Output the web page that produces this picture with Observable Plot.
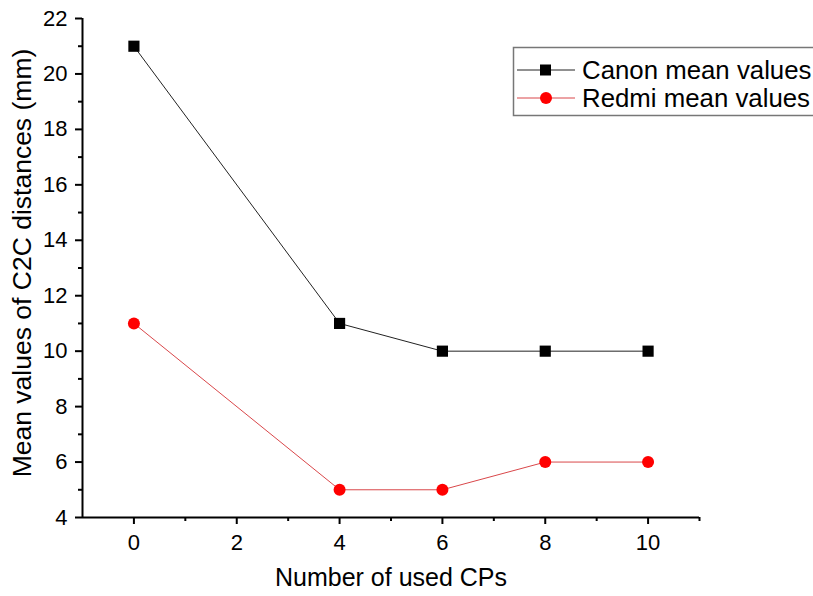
<!DOCTYPE html>
<html>
<head>
<meta charset="utf-8">
<script src="https://cdn.jsdelivr.net/npm/d3@7"></script>
<script src="https://cdn.jsdelivr.net/npm/@observablehq/plot@0.6"></script>
<style>
  html, body { margin: 0; padding: 0; background: #fff; }
  #chart { position: relative; width: 813px; height: 596px; overflow: hidden; }
  #chart svg g[aria-label="x-axis tick label"] text,
  #chart svg g[aria-label="y-axis tick label"] text { font-size: 22px !important; }
</style>
</head>
<body>
<div id="chart"></div>
<script>
const cps = [0, 4, 6, 8, 10];
const canon = [21, 11, 10, 10, 10];
const redmi = [11, 5, 5, 6, 6];
const seriesNames = ["Canon mean values", "Redmi mean values"];
const xTicks = [0, 2, 4, 6, 8, 10];
const xMinor = [1, 3, 5, 7, 9, 11];
const yTicks = [4, 6, 8, 10, 12, 14, 16, 18, 20, 22];
const yMinor = [5, 7, 9, 11, 13, 15, 17, 19, 21];

const canonData = cps.map((x, i) => ({x, y: canon[i]}));
const redmiData = cps.map((x, i) => ({x, y: redmi[i]}));

const font = "'Liberation Sans', Arial, sans-serif";

const plot = Plot.plot({
  width: 813,
  height: 596,
  marginLeft: 82,
  marginRight: 114,
  marginTop: 18,
  marginBottom: 79,
  style: {fontFamily: font, fontSize: "22px", color: "#000", background: "#fff"},
  x: {domain: [-1, 11]},
  y: {domain: [4, 22]},
  marks: [
    Plot.axisX({ticks: xTicks, tickSize: 7, tickPadding: 10, tickFormat: d => d, label: null, fontSize: 22, strokeWidth: 2}),
    Plot.axisX({ticks: xMinor, tickSize: 4, tickFormat: () => "", label: null, strokeWidth: 2}),
    Plot.axisY({ticks: yTicks, tickSize: 7, tickPadding: 8, tickFormat: d => d, label: null, fontSize: 22, strokeWidth: 2}),
    Plot.axisY({ticks: yMinor, tickSize: 4, tickFormat: () => "", label: null, strokeWidth: 2}),
    Plot.ruleX([-1], {stroke: "#000", strokeWidth: 2}),
    Plot.ruleY([4], {stroke: "#000", strokeWidth: 2}),
    Plot.line(canonData, {x: "x", y: "y", stroke: "#222", strokeWidth: 1}),
    Plot.line(redmiData, {x: "x", y: "y", stroke: "#d9474a", strokeWidth: 1}),
    Plot.dot(canonData, {x: "x", y: "y", symbol: "square", r: 6.3, fill: "#000", stroke: "none"}),
    Plot.dot(redmiData, {x: "x", y: "y", symbol: "circle", r: 6, fill: "#ff0000", stroke: "none"}),
    Plot.text(["Number of used CPs"], {frameAnchor: "bottom", dy: 68, fontSize: 25, fill: "#000"}),
    Plot.text(["Mean values of C2C distances (mm)"], {frameAnchor: "left", textAnchor: "middle", dx: -60, dy: -5, rotate: -90, fontSize: 26.5, fill: "#000"})
  ]
});

document.getElementById("chart").appendChild(plot);

// Legend drawn into the SVG
const svg = d3.select(plot);
const lg = svg.append("g").attr("font-family", font).attr("text-anchor", "start");
lg.append("rect").attr("x", 513.5).attr("y", 47.5).attr("width", 320).attr("height", 68)
  .attr("fill", "#fff").attr("stroke", "#777").attr("stroke-width", 1.5);
const items = [
  {name: seriesNames[0], stroke: "#222", fill: "#000", sym: "square", y: 70},
  {name: seriesNames[1], stroke: "#d9474a", fill: "#ff0000", sym: "circle", y: 98}
];
items.forEach(it => {
  lg.append("line").attr("x1", 517).attr("x2", 575).attr("y1", it.y).attr("y2", it.y)
    .attr("stroke", it.stroke).attr("stroke-width", 1);
  if (it.sym === "square") {
    lg.append("rect").attr("x", 540).attr("y", it.y - 5.5).attr("width", 11).attr("height", 11).attr("fill", it.fill);
  } else {
    lg.append("circle").attr("cx", 546).attr("cy", it.y).attr("r", 6).attr("fill", it.fill);
  }
  lg.append("text").attr("x", 582).attr("y", it.y).attr("dy", "0.35em").attr("fill", "#000")
    .style("font-size", "25.8px").style("text-anchor", "start").text(it.name);
});
</script>
</body>
</html>
